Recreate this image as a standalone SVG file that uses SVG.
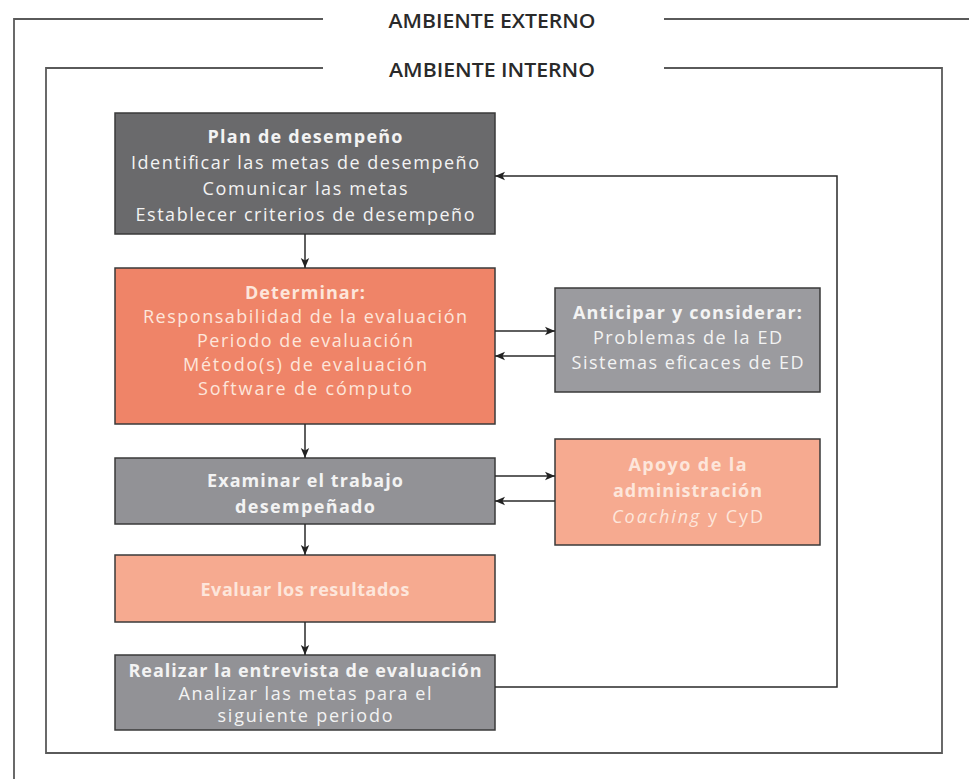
<svg xmlns="http://www.w3.org/2000/svg" width="969" height="779" viewBox="0 0 969 779">
  <defs>
    <marker id="ah" viewBox="0 0 10 10" refX="10" refY="5" markerWidth="10" markerHeight="10" markerUnits="userSpaceOnUse" orient="auto">
      <path d="M0,0.8 L10,5 L0,9.2 L2.5,5 Z" fill="#222"/>
    </marker>
    <style>
      .frame { fill: none; stroke: #5a5a5a; stroke-width: 1.8; }
      .title { font-family: "Open Sans", "Noto Sans", sans-serif; font-size: 19px; font-weight: 600; fill: #2a2a2a; text-anchor: middle; dominant-baseline: central; }
      .box { stroke: #3a3a3a; stroke-width: 1.5; }
      .t { font-family: "Open Sans", "Noto Sans", sans-serif; font-size: 18px; text-anchor: middle; dominant-baseline: central; }
      .b { font-weight: bold; }
      .w { fill: #f3f3f3; }
      .p { fill: #fde6db; }
      .conn { fill: none; stroke: #2a2a2a; stroke-width: 1.5; }
      .dk { fill: #6a6a6c; }
      .gr { fill: #9b9b9f; }
      .gr2 { fill: #929296; }
      .coral { fill: #ef8468; }
      .salmon { fill: #f6aa90; }
    </style>
  </defs>
  <rect width="969" height="779" fill="#ffffff"/>

  <g id="ambiente-externo">
    <polyline class="frame" points="323,19 14,19 14,779"/>
    <line class="frame" x1="664" y1="19" x2="969" y2="19"/>
    <text class="title" x="492" y="21" textLength="207" lengthAdjust="spacingAndGlyphs">AMBIENTE EXTERNO</text>
  </g>

  <g id="ambiente-interno">
    <polyline class="frame" points="323,68 46,68 46,753 942,753 942,68 664,68"/>
    <text class="title" x="492" y="70" textLength="206" lengthAdjust="spacingAndGlyphs">AMBIENTE INTERNO</text>
  </g>

  <g id="plan">
    <rect class="box dk" x="115" y="113" width="380" height="121"/>
    <text class="t b w" x="305" y="136" textLength="195" lengthAdjust="spacing">Plan de desempeño</text>
    <text class="t w" x="305" y="162" textLength="348" lengthAdjust="spacing">Identificar las metas de desempeño</text>
    <text class="t w" x="305" y="188" textLength="205" lengthAdjust="spacing">Comunicar las metas</text>
    <text class="t w" x="305" y="214" textLength="339" lengthAdjust="spacing">Establecer criterios de desempeño</text>
  </g>

  <g id="determinar">
    <rect class="box coral" x="115" y="268" width="380" height="156"/>
    <text class="t b p" x="305" y="292" textLength="120" lengthAdjust="spacing">Determinar:</text>
    <text class="t p" x="305" y="316" textLength="324" lengthAdjust="spacing">Responsabilidad de la evaluación</text>
    <text class="t p" x="305" y="340" textLength="216" lengthAdjust="spacing">Periodo de evaluación</text>
    <text class="t p" x="305" y="364" textLength="244" lengthAdjust="spacing">Método(s) de evaluación</text>
    <text class="t p" x="305" y="388" textLength="214" lengthAdjust="spacing">Software de cómputo</text>
  </g>

  <g id="anticipar">
    <rect class="box gr" x="555" y="288" width="265" height="104"/>
    <text class="t b w" x="687.5" y="312" textLength="229" lengthAdjust="spacing">Anticipar y considerar:</text>
    <text class="t w" x="687.5" y="337" textLength="189" lengthAdjust="spacing">Problemas de la ED</text>
    <text class="t w" x="687.5" y="362" textLength="232" lengthAdjust="spacing">Sistemas eficaces de ED</text>
  </g>

  <g id="examinar">
    <rect class="box gr2" x="115" y="458" width="380" height="66"/>
    <text class="t b w" x="305" y="480" textLength="196" lengthAdjust="spacing">Examinar el trabajo</text>
    <text class="t b w" x="305" y="506" textLength="140" lengthAdjust="spacing">desempeñado</text>
  </g>

  <g id="apoyo">
    <rect class="box salmon" x="555" y="439" width="265" height="106"/>
    <text class="t b p" x="687.5" y="464" textLength="118" lengthAdjust="spacing">Apoyo de la</text>
    <text class="t b p" x="687.5" y="490" textLength="149" lengthAdjust="spacing">administración</text>
    <text class="t p" x="687.5" y="516" textLength="151" lengthAdjust="spacing"><tspan font-style="italic">Coaching</tspan> y CyD</text>
  </g>

  <g id="evaluar">
    <rect class="box salmon" x="115" y="555" width="380" height="67"/>
    <text class="t b p" x="305" y="589" textLength="209" lengthAdjust="spacing">Evaluar los resultados</text>
  </g>

  <g id="realizar">
    <rect class="box gr2" x="115" y="655" width="380" height="75"/>
    <text class="t b w" x="305" y="670" textLength="353" lengthAdjust="spacing">Realizar la entrevista de evaluación</text>
    <text class="t w" x="305" y="692.5" textLength="253" lengthAdjust="spacing">Analizar las metas para el</text>
    <text class="t w" x="305" y="715" textLength="175" lengthAdjust="spacing">siguiente periodo</text>
  </g>

  <g id="connectors">
    <line class="conn" x1="305" y1="234" x2="305" y2="268" marker-end="url(#ah)"/>
    <line class="conn" x1="305" y1="424" x2="305" y2="458" marker-end="url(#ah)"/>
    <line class="conn" x1="305" y1="524" x2="305" y2="555" marker-end="url(#ah)"/>
    <line class="conn" x1="305" y1="622" x2="305" y2="655" marker-end="url(#ah)"/>
    <line class="conn" x1="495" y1="331" x2="555" y2="331" marker-end="url(#ah)"/>
    <line class="conn" x1="555" y1="356" x2="495" y2="356" marker-end="url(#ah)"/>
    <line class="conn" x1="495" y1="476" x2="555" y2="476" marker-end="url(#ah)"/>
    <line class="conn" x1="555" y1="501" x2="495" y2="501" marker-end="url(#ah)"/>
    <polyline class="conn" points="495,687 837,687 837,176 495,176" marker-end="url(#ah)"/>
  </g>
</svg>
